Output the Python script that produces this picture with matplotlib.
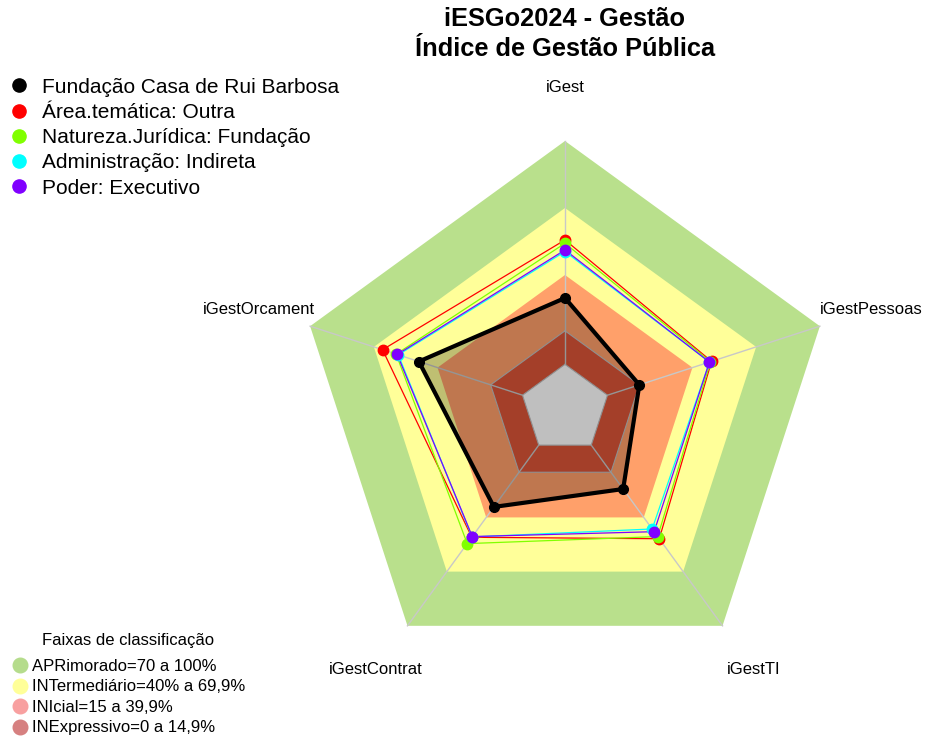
import matplotlib
matplotlib.use("Agg")
import matplotlib.pyplot as plt
from matplotlib.lines import Line2D
import numpy as np

plt.rcParams["font.family"] = ["Liberation Sans", "DejaVu Sans"]

# Data
indicadores = ["iGest", "iGestOrcament", "iGestContrat", "iGestTI", "iGestPessoas"]
fcrb = [29.7, 48.8, 34.2, 24.3, 15.0]
area_tematica = [55.7, 65.9, 51.0, 51.8, 49.0]
natureza = [54.2, 59.5, 54.5, 50.6, 48.5]
administracao = [50.5, 58.5, 50.8, 46.4, 48.0]
poder = [51.2, 59.0, 50.6, 47.9, 48.0]

series_labels = ["Fundação Casa de Rui Barbosa", "Área.temática: Outra",
                 "Natureza.Jurídica: Fundação", "Administração: Indireta",
                 "Poder: Executivo"]
series_colors = ["black", "#FF0000", "#80FF00", "#00FFFF", "#8000FF"]

# faixas de classificação
faixa_limites = [0, 15, 40, 70, 100]
faixa_cores = ["#DC5538", "#FFA06A", "#FFFF99", "#B9E08C"]
faixa_labels = ["APRimorado=70 a 100%", "INTermediário=40% a 69,9%",
                "INIcial=15 a 39,9%", "INExpressivo=0 a 14,9%"]
faixa_leg_cores = ["#B5DC8C", "#FFFF99", "#F8A0A0", "#D68080"]

n = len(indicadores)
theta = np.radians(90 + 360 / n * np.arange(n))
seg = 5


def raio(v):
    return (1 + seg * np.asarray(v, dtype=float) / 100) / (seg + 1)


def xy(v):
    r = raio(v)
    return np.append(r * np.cos(theta), r[0] * np.cos(theta[0])), \
        np.append(r * np.sin(theta), r[0] * np.sin(theta[0]))


fig = plt.figure(figsize=(9.25, 7.37), dpi=100)
ax = fig.add_axes([0, 0, 1, 1])
cx, cy, R = 565, 409, 268
ax.set_xlim(-cx / R, (925 - cx) / R)
ax.set_ylim(-(737 - cy) / R, cy / R)
ax.axis("off")

# bands, from outside in
for i in range(len(faixa_cores) - 1, -1, -1):
    x, y = xy([faixa_limites[i + 1]] * n)
    ax.fill(x, y, color=faixa_cores[i], lw=0, zorder=1)
x, y = xy([0] * n)
ax.fill(x, y, color="white", lw=0, zorder=1)
for v in [0, 15]:
    x, y = xy([v] * n)
    ax.plot(x, y, color="#C0C0C0", lw=0.8, zorder=2)

# axis lines
r0 = raio(0)
for t in theta:
    ax.plot([r0 * np.cos(t), np.cos(t)], [r0 * np.sin(t), np.sin(t)],
            color="#C8C8C8", lw=1, zorder=2)

# labels
for t, lab in zip(theta, indicadores):
    ax.text(1.2 * np.cos(t), 1.2 * np.sin(t), lab, ha="center", va="center",
            fontsize=12)

# series
x, y = xy(fcrb)
ax.fill(x, y, color="black", alpha=0.25, lw=0, zorder=3)
dados = [area_tematica, natureza, administracao, poder]
for vals, c in zip(dados, series_colors[1:]):
    x, y = xy(vals)
    ax.plot(x, y, color=c, lw=0.9, zorder=4)
    ax.plot(x[:-1], y[:-1], "o", color=c, ms=7.5, zorder=5)
x, y = xy(fcrb)
ax.plot(x, y, color="black", lw=3, zorder=6)
ax.plot(x[:-1], y[:-1], "o", color="black", ms=7, zorder=7)

# title
fig.text(565 / 925, 1 - 34 / 737, "iESGo2024 - Gestão\nÍndice de Gestão Pública",
         ha="center", va="center", fontsize=18.3, fontweight="bold", linespacing=1.3)

# legends
h1 = [Line2D([], [], marker="o", ls="", color=c, ms=9.5) for c in series_colors]
leg1 = fig.legend(h1, series_labels, loc="upper left", bbox_to_anchor=(0.0, 0.906),
                  frameon=False, fontsize=15, handletextpad=0.6, labelspacing=0.3,
                  handlelength=1.0, borderaxespad=0)
h2 = [Line2D([], [], marker="o", ls="", color=c, ms=10.5) for c in faixa_leg_cores]
leg2 = fig.legend(h2, faixa_labels, loc="lower left", bbox_to_anchor=(0.005, -0.007),
                  frameon=False, fontsize=12, handletextpad=0.25, labelspacing=0.33,
                  handlelength=1.0, title="Faixas de classificação",
                  title_fontsize=12, borderaxespad=0)
leg2._legend_box.sep = 8

fig.savefig("out.png", dpi=100)
